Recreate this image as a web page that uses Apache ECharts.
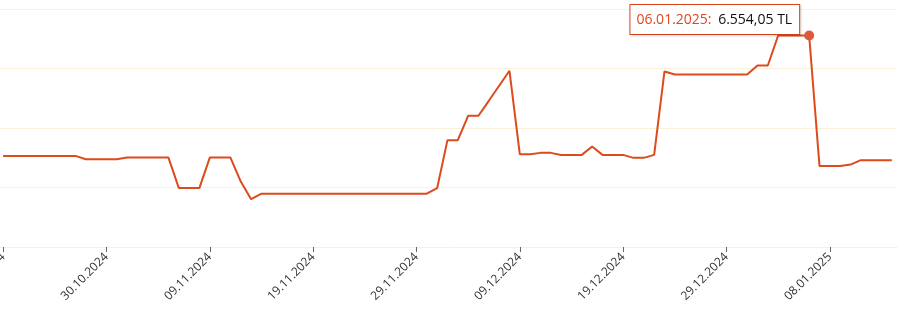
<!DOCTYPE html>
<html>
<head>
<meta charset="utf-8">
<script src="https://cdn.jsdelivr.net/npm/echarts@6/dist/echarts.min.js"></script>
<style>html,body{margin:0;padding:0;background:#fff}#c{width:910px;height:317px}</style>
</head>
<body>
<div id="c"></div>
<script>
// Daily dates, 20.10.2024 .. 14.01.2025
const startDate = [2024, 9, 20];
const dayCount = 87;
// Daily prices (TL)
const prices = [
  4531, 4531, 4531, 4531, 4531, 4531, 4531, 4531,
  4476, 4476, 4476, 4476,
  4503, 4503, 4503, 4503, 4503,
  3993, 3993, 3993,
  4503, 4503, 4503,
  4099, 3803,
  3897, 3897, 3897, 3897, 3897, 3897, 3897, 3897, 3897, 3897, 3897, 3897, 3897, 3897, 3897, 3897, 3897,
  3988,
  4796, 4796,
  5205, 5205,
  5457, 5710, 5962,
  4560, 4560,
  4582, 4582,
  4548, 4548, 4548,
  4688,
  4548, 4548, 4548,
  4498, 4498,
  4548,
  5950,
  5900, 5900, 5900, 5900, 5900, 5900, 5900, 5900,
  6051, 6051,
  6554.05, 6554.05, 6554.05, 6554.05,
  4363, 4363, 4363,
  4385,
  4459, 4459, 4459, 4459
];
const tickDays = [0, 10, 20, 30, 40, 50, 60, 70, 80];
const highlightDay = 78;
const yTicks = [3000, 4000, 5000, 6000, 7000];

function pad(n){ return (n < 10 ? '0' : '') + n; }
const dates = [];
for (let i = 0; i < dayCount; i++) {
  const d = new Date(startDate[0], startDate[1], startDate[2] + i);
  dates.push(pad(d.getDate()) + '.' + pad(d.getMonth() + 1) + '.' + d.getFullYear());
}
function fmtTL(v){
  const parts = v.toFixed(2).split('.');
  const intp = parts[0].replace(/\B(?=(\d{3})+(?!\d))/g, '.');
  return intp + ',' + parts[1] + ' TL';
}

const lineColor = '#dd4a1c';
const data = prices.map((v, i) => {
  if (i === highlightDay) {
    return {
      value: [i, v],
      symbol: 'circle', symbolSize: 10,
      itemStyle: { color: '#db5a3c' },
      label: {
        show: true, position: 'left', distance: 5, offset: [0, -16],
        formatter: '{d|' + dates[i] + ':}  {v|' + fmtTL(v) + '}',
        backgroundColor: '#fff', borderColor: '#e0461e', borderWidth: 1,
        padding: [8, 7, 7, 6],
        shadowColor: 'rgba(0,0,0,0.15)', shadowBlur: 3, shadowOffsetX: 1, shadowOffsetY: 1,
        rich: {
          d: { color: '#e0461e', fontSize: 14, fontFamily: 'Open Sans' },
          v: { color: '#111', fontSize: 14, fontFamily: 'Open Sans' }
        }
      }
    };
  }
  return [i, v];
});

const chart = echarts.init(document.getElementById('c'), null, { renderer: 'canvas' });
chart.setOption({
  animation: false,
  grid: { left: 0, right: 13, top: 9, bottom: 70, containLabel: false, outerBoundsMode: 'none' },
  xAxis: {
    type: 'value', min: -0.3, max: 86.5,
    axisLine: { show: true, lineStyle: { color: '#f6f0dc' } },
    axisTick: { show: true, customValues: tickDays, length: 5, lineStyle: { color: '#666' } },
    axisLabel: {
      customValues: tickDays, rotate: 45, color: '#333', fontSize: 12, fontFamily: 'Open Sans',
      margin: 8,
      formatter: v => dates[Math.round(v)] || ''
    },
    splitLine: { show: false }
  },
  yAxis: {
    type: 'value', min: yTicks[0], max: yTicks[yTicks.length - 1], interval: 1000,
    axisLabel: { show: false },
    axisLine: { show: false }, axisTick: { show: false },
    splitLine: { show: true, lineStyle: { color: '#fbf0da', width: 1 } }
  },
  series: [{
    type: 'line', data: data, showSymbol: true, symbol: 'none',
    lineStyle: { color: lineColor, width: 2 },
    itemStyle: { color: lineColor },
    z: 3
  }]
});
</script>
</body>
</html>
